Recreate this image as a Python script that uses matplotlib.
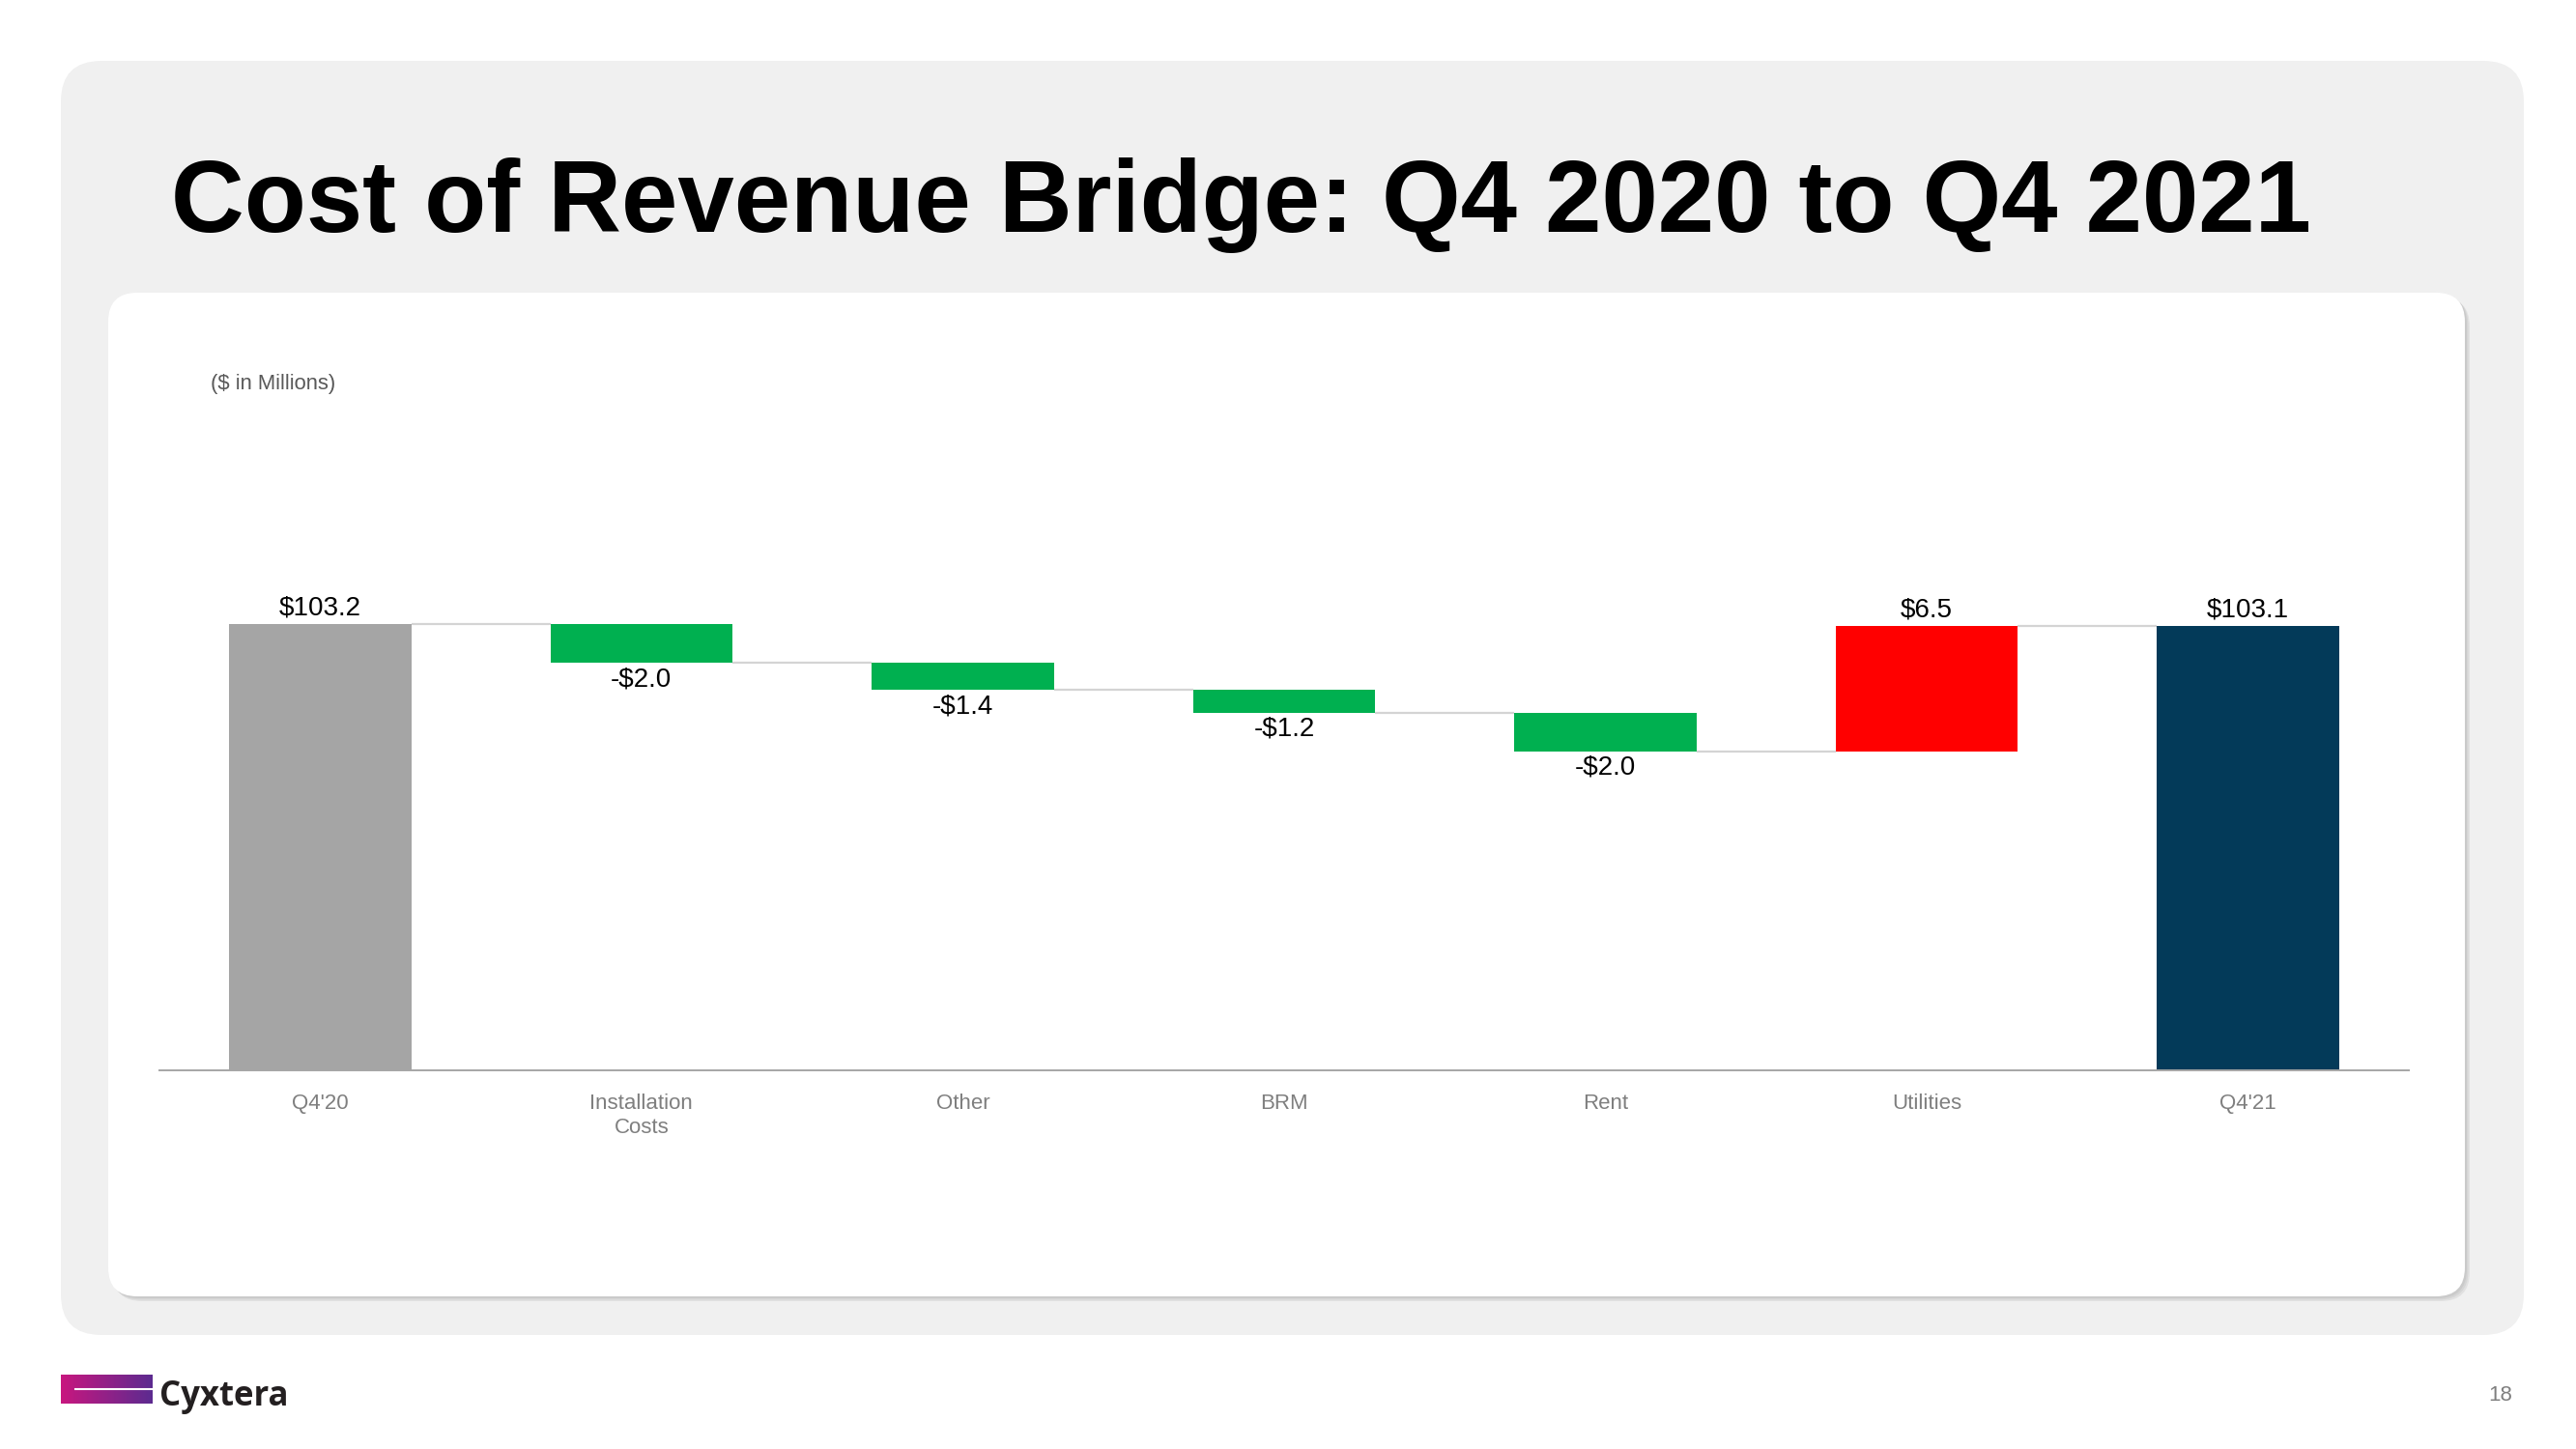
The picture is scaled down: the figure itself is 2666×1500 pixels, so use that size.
import matplotlib
matplotlib.use('Agg')
import matplotlib.pyplot as plt
import numpy as np
from matplotlib.patches import FancyBboxPatch
from matplotlib.colors import LinearSegmentedColormap

# data
categories = ["Q4'20", "Installation\nCosts", "Other", "BRM", "Rent", "Utilities", "Q4'21"]
values = [103.2, -2.0, -1.4, -1.2, -2.0, 6.5, 103.1]
value_labels = ["$103.2", "-$2.0", "-$1.4", "-$1.2", "-$2.0", "$6.5", "$103.1"]
is_total = [True, False, False, False, False, False, True]
bar_colors = ['#a5a5a5', '#00b050', '#00b050', '#00b050', '#00b050', '#ff0000', '#033a59']

plt.rcParams['font.family'] = ['Liberation Sans', 'DejaVu Sans']

W, H = 26.66, 15.0
fig = plt.figure(figsize=(W, H), dpi=100)
fig.patch.set_facecolor('white')

# grey slide panel
grey = FancyBboxPatch((0.63, 1.18), 25.49, 13.19,
                      boxstyle='round,pad=0,rounding_size=0.42',
                      transform=fig.dpi_scale_trans, facecolor='#f0f0f0',
                      edgecolor='none', zorder=0)
fig.patches.append(grey)

# soft shadow + white chart panel
for i, a in enumerate([0.05, 0.05, 0.06]):
    d = 0.02 + 0.015 * i
    sh = FancyBboxPatch((1.12 + d, 1.58 - d), 24.39, 10.39,
                        boxstyle='round,pad=0,rounding_size=0.3',
                        transform=fig.dpi_scale_trans, facecolor='black',
                        alpha=a, edgecolor='none', zorder=0.5)
    fig.patches.append(sh)
panel = FancyBboxPatch((1.12, 1.58), 24.39, 10.39,
                       boxstyle='round,pad=0,rounding_size=0.3',
                       transform=fig.dpi_scale_trans, facecolor='white',
                       edgecolor='none', zorder=1)
fig.patches.append(panel)

# title and notes
fig.text(177 / 2666, 1 - 240 / 1500, 'Cost of Revenue Bridge: Q4 2020 to Q4 2021',
         fontsize=75.5, fontweight='bold', color='black', ha='left', va='baseline')
fig.text(218 / 2666, 1 - 397 / 1500, '($ in Millions)', fontsize=15.8,
         color='#595959', ha='left', va='center')
fig.text(2588 / 2666, 1 - 1445 / 1500, '18', fontsize=16, color='#7f7f7f',
         ha='center', va='center')

# waterfall
ax = fig.add_axes([165 / 2666, 1 - 1108 / 1500, 2328 / 2666, 608 / 1500])
ax.set_zorder(5)
ax.set_facecolor('none')
x = np.arange(len(categories))
width = 0.567

running = 0.0
bottoms, tops = [], []
for v, tot in zip(values, is_total):
    if tot:
        b, t = 0.0, v
        running = v
    else:
        b, t = running, running + v
        running = t
    bottoms.append(min(b, t))
    tops.append(max(b, t))

heights = [t - b for b, t in zip(bottoms, tops)]
ax.bar(x, heights, bottom=bottoms, width=width, color=bar_colors, zorder=3)

# connectors
level = values[0]
for i in range(len(categories) - 1):
    if is_total[i]:
        level = values[i]
    else:
        level = level + values[i]
    ax.plot([x[i] + width / 2, x[i + 1] - width / 2], [level, level],
            color='#d4d4d4', lw=1.6, zorder=2, solid_capstyle='butt')

for i, (v, lab) in enumerate(zip(values, value_labels)):
    if v >= 0:
        ax.annotate(lab, (x[i], tops[i]), xytext=(0, 3), textcoords='offset points',
                    ha='center', va='bottom', fontsize=20, color='black')
    else:
        ax.annotate(lab, (x[i], bottoms[i]), xytext=(0, -3), textcoords='offset points',
                    ha='center', va='top', fontsize=20, color='black')

ax.set_xlim(-0.5, 6.5)
ax.set_ylim(80, 110.55)
ax.set_xticks(x)
ax.set_xticklabels(categories, fontsize=16, color='#7f7f7f', linespacing=1.3)
ax.tick_params(axis='x', length=0, pad=17)
ax.set_yticks([])
for s in ['top', 'left', 'right']:
    ax.spines[s].set_visible(False)
ax.spines['bottom'].set_color('#a6a6a6')
ax.spines['bottom'].set_linewidth(1.4)
ax.spines['bottom'].set_zorder(4)

# logo
lax = fig.add_axes([63 / 2666, 1 - 1453 / 1500, 95 / 2666, 30 / 1500])
cmap = LinearSegmentedColormap.from_list('cyx', ['#c8177f', '#5c2b90'])
lax.imshow(np.linspace(0, 1, 200).reshape(1, -1), cmap=cmap, aspect='auto',
           extent=(0, 1, 0, 1))
lax.plot([0.16, 1.0], [0.5, 0.5], color='white', lw=1.5)
lax.set_xlim(0, 1)
lax.set_ylim(0, 1)
lax.axis('off')
fig.text(165 / 2666, 1 - 1455 / 1500, 'Cyxtera', fontsize=25, fontweight='bold',
         color='#231f20', ha='left', va='baseline',
         family=['Open Sans', 'DejaVu Sans'])

fig.savefig('out.png', dpi=100)
